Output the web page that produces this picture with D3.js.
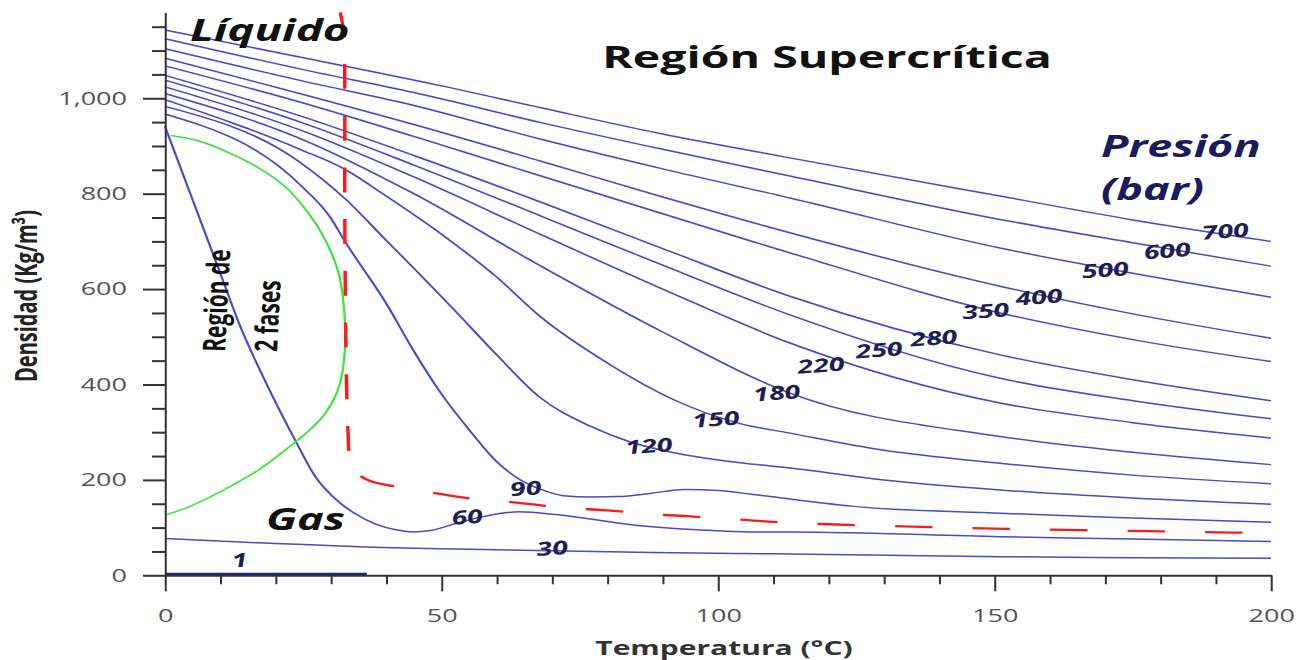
<!DOCTYPE html>
<html>
<head>
<meta charset="utf-8">
<script src="https://cdn.jsdelivr.net/npm/d3@7"></script>
<style>
  body { margin: 0; background: #fff; }
  text { font-family: "Open Sans", sans-serif; }
</style>
</head>
<body>
<svg id="chart" width="1304" height="660"></svg>
<script>
// the original picture is stretched horizontally, so everything is drawn in a scaled group
const stretch = 1.5;

const xTicks = [0, 50, 100, 150, 200];
const yTicks = [0, 200, 400, 600, 800, 1000];

// isobars, [temperature °C, density kg/m3]
const pressures = [700, 600, 500, 400, 350, 280, 250, 220, 180, 150, 120, 90, 60, 30, 1];
const iso700 = [[0,1143],[25,1085],[50,1026],[68,980],[90,925],[113,875],[151,795],[175,745],[200,700]];
const iso600 = [[0,1125],[25,1060],[45,1012],[68,949],[90,893],[113,837],[151,746],[175,697],[200,648]];
const iso500 = [[0,1104],[25,1036],[45,985],[68,914],[90,852],[113,791],[151,686],[175,633],[200,583]];
const iso400 = [[0,1084],[25,1008],[45,945],[68,868],[90,793],[113,718],[151,606],[175,548],[200,497]];
const iso350 = [[0,1068],[25,990],[45,920],[68,837],[90,758],[113,676],[151,550],[175,494],[200,448]];
const iso280 = [[0,1048],[25,961],[45,880],[68,782],[90,685],[113,585],[151,462],[175,410],[200,366]];
const iso250 = [[0,1038],[25,948],[45,860],[68,753],[90,650],[113,546],[151,413],[175,366],[200,328]];
const iso220 = [[0,1024],[25,931],[45,835],[68,714],[90,600],[113,487],[151,361],[175,320],[200,288]];
const iso180 = [[0,1010],[25,913],[45,800],[68,648],[90,510],[113,382],[151,291],[175,258],[200,232]];
const iso150 = [[0,997],[24.4,893],[32.7,850],[40,795],[50,715],[60,625],[67.8,543],[80,445],[92,368],[104,318],[113,298],[130,262],[151,235],[175,210],[200,192]];
const iso120 = [[0,983],[24.4,866],[32.7,788],[40,702],[46,632],[52,560],[60,462],[67.8,373],[77,312],[84,280],[92,257],[104,236],[113,225],[130,200],[151,179],[175,162],[200,149]];
const iso90 = [[0,967],[24.4,819],[29.8,752],[32.7,697],[40,570],[45,470],[50,380],[55,305],[60,238],[64,202],[68,180],[72,167],[77,164],[82,165],[88,172],[94,180],[100,178],[106,170],[113,160],[124,145],[151,130],[175,120],[200,111]];
const iso60 = [[0,941],[5,787],[10,633],[13.6,522],[18,410],[23.5,284],[27,210],[31.6,152],[34.7,127],[38,108],[42,95],[45,91],[48,94],[53,110],[58,124],[64,133],[71,127],[85,105],[97,95],[106,91],[113,91],[151,81],[175,76],[200,71]];
const iso30 = [[0,77],[17,68],[35,60],[53,55],[88,48],[110,45],[124,43],[151,39],[175,37],[200,36]];
const iso1 = [[0,2],[36.5,2]];
const isobars = [iso700, iso600, iso500, iso400, iso350, iso280, iso250, iso220, iso180, iso150, iso120, iso90, iso60, iso30, iso1];

// where the pressure labels sit (temperature, density), same order as pressures
const labelT = [191.9, 181.4, 170.2, 158.2, 148.6, 139.2, 129.3, 118.8, 110.8, 99.8, 87.7, 65.4, 54.8, 70.2, 13.7];
const labelD = [707, 666, 626, 569, 540, 483, 458, 426, 368, 313, 257, 168, 108, 42.6, 17.4];

// two phase dome
const dome = [[1.1,922],[6.3,910],[12.3,882],[16.8,855],[21.3,819],[24.4,782],[27.5,733],[29.5,691],[31.1,645],[32,599],[32.5,540],[32.6,504],[32.5,469],[32,420],[30.9,378],[28.9,338],[26.2,305],[23.1,275],[17.2,223],[12.7,192],[8.1,164],[4.2,143],[0,126]];

// red dashed border of the supercritical region
const critLine = [[31.7,1180],[32.4,1130],[32.5,1050],[32.5,800],[32.6,600],[32.8,420],[33.1,300],[33.5,245],[35,212],[37,198],[42.5,184],[50,170],[56,160],[63,153],[70,144],[80,136],[90,127],[100,120],[110,112],[120,107],[135,102],[150,98],[175,93],[199,90],[202,93]];

const svg = d3.select("#chart");
const g = svg.append("g").attr("transform", `scale(${stretch},1)`);

const x = d3.scaleLinear().domain([0, 200]).range([165 / stretch, 1271 / stretch]);
const y = d3.scaleLinear().domain([0, 1180]).range([575.3, 12.4]);

const smooth = d3.line().x(d => x(d[0])).y(d => y(d[1])).curve(d3.curveMonotoneX);
const loose = d3.line().x(d => x(d[0])).y(d => y(d[1])).curve(d3.curveCatmullRom.alpha(0.5));

// isobars
g.selectAll(".iso")
  .data(isobars)
  .enter().append("path")
  .attr("class", "iso")
  .attr("d", smooth)
  .attr("fill", "none")
  .attr("stroke", (d, i) => pressures[i] === 1 ? "#22228c" : "#4a4acb")
  .attr("stroke-width", (d, i) => pressures[i] === 1 ? 3 : 1.5);

g.append("path")
  .attr("d", loose(dome))
  .attr("fill", "none")
  .attr("stroke", "#3be63b")
  .attr("stroke-width", 1.5);

g.append("path")
  .attr("d", loose(critLine))
  .attr("fill", "none")
  .attr("stroke", "#ff1a1a")
  .attr("stroke-width", 2.3)
  .attr("stroke-dasharray", "25,26.7");

// axes
function styleAxis(sel, lineWidth) {
  sel.selectAll("path, line").attr("stroke", "#333").attr("stroke-width", lineWidth);
  sel.selectAll("text")
    .attr("fill", "#555")
    .style("font-family", '"Open Sans", sans-serif')
    .style("font-size", "18px");
}

const yAxis = g.append("g")
  .attr("transform", `translate(${x(0)},0)`)
  .call(d3.axisLeft(y).tickValues(yTicks).tickFormat(d3.format(","))
    .tickSize(22 / stretch).tickPadding(10.7).tickSizeOuter(0));
styleAxis(yAxis, 2);
yAxis.select(".domain").attr("stroke-width", 1.35);

const yMinor = g.append("g")
  .attr("transform", `translate(${x(0)},0)`)
  .call(d3.axisLeft(y).tickValues(d3.range(50, 1200, 50).filter(v => v % 200 !== 0 || v > 1000))
    .tickFormat("").tickSize(13 / stretch).tickSizeOuter(0));
yMinor.select(".domain").remove();
styleAxis(yMinor, 2);

const xAxis = g.append("g")
  .attr("transform", `translate(0,${y(0)})`)
  .call(d3.axisBottom(x).tickValues(xTicks).tickSize(16).tickPadding(18).tickSizeOuter(0));
styleAxis(xAxis, 1.35);
xAxis.select(".domain").attr("stroke-width", 2);

const xMinor = g.append("g")
  .attr("transform", `translate(0,${y(0)})`)
  .call(d3.axisBottom(x).tickValues(d3.range(10, 200, 10).filter(v => v % 50 !== 0))
    .tickFormat("").tickSize(9).tickSizeOuter(0));
xMinor.select(".domain").remove();
styleAxis(xMinor, 1.35);

// pressure labels
g.selectAll(".plabel")
  .data(pressures)
  .enter().append("text")
  .attr("class", "plabel")
  .attr("transform", (d, i) => `translate(${x(labelT[i])},${y(labelD[i])}) rotate(-6)`)
  .attr("text-anchor", "middle")
  .attr("fill", "#1e1e55")
  .style("font-size", "19px")
  .style("font-weight", "bold")
  .style("font-style", "italic")
  .text(d => d);

// text blocks
function addText(sx, sy, str, size, opts = {}) {
  const t = g.append("text")
    .attr("transform", `translate(${sx / stretch},${sy})` + (opts.rotate ? ` rotate(${opts.rotate})` : ""))
    .attr("text-anchor", opts.anchor || "start")
    .attr("fill", opts.color || "#111")
    .style("font-size", size + "px")
    .style("font-weight", opts.weight || "bold")
    .style("font-style", opts.italic ? "italic" : "normal")
    .text(str);
  return t;
}

addText(827, 68, "Región Supercrítica", 31, { anchor: "middle" });
addText(190, 41, "Líquido", 30.5, { italic: true });
addText(266, 530, "Gas", 30, { italic: true });
addText(1101, 157, "Presión", 30, { italic: true, color: "#1a1a5e" });
addText(1101, 200, "(bar)", 30, { italic: true, color: "#1a1a5e" });
addText(724, 655, "Temperatura (°C)", 20, { anchor: "middle", color: "#333" });
addText(37, 296, "Densidad (Kg/m³)", 20, { anchor: "middle", color: "#222", rotate: -90 });
addText(225, 352, "Región de", 21, { color: "#111", rotate: -88 });
addText(277, 352, "2 fases", 21, { color: "#111", rotate: -88 });
</script>
</body>
</html>
